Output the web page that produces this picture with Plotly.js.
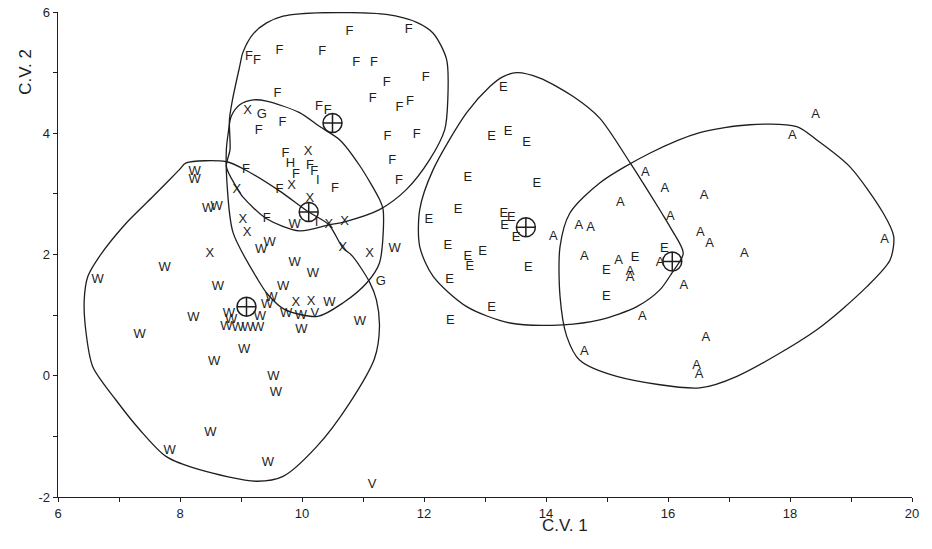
<!DOCTYPE html>
<html><head><meta charset="utf-8">
<script src="https://cdn.plot.ly/plotly-3.0.1.min.js"></script>
<style>html,body{margin:0;padding:0;background:#fff}#chart{width:932px;height:549px}</style>
</head><body><div id="chart"></div>
<script>
// Group F
const fX = [9.13,9.26,9.63,10.33,10.78,11.75,10.89,11.18,11.39,12.03,9.60,11.16,11.60,11.77,10.28,10.42,11.40,11.88,11.48,11.59,9.68,9.29,9.73,10.13,10.20,9.90,10.54,9.08,9.63,9.42];
const fY = [5.27,5.20,5.36,5.34,5.68,5.70,5.16,5.16,4.84,4.91,4.65,4.57,4.42,4.52,4.44,4.37,3.95,3.98,3.55,3.21,4.18,4.04,3.67,3.47,3.36,3.32,3.09,3.39,3.06,2.59];
// Group X
const xX = [9.11,10.10,9.83,8.93,10.13,9.03,9.10,8.49,10.44,10.70,10.67,11.11,9.90,10.15];
const xY = [4.37,3.70,3.14,3.06,2.92,2.57,2.36,2.02,2.49,2.54,2.11,2.01,1.20,1.22];
// Minor groups
const gX = [9.34,11.29], gY = [4.31,1.55];
const hX = [9.81], hY = [3.49];
const iX = [10.26,10.24], iY = [3.22,2.52];
const vX = [10.21,11.15], vY = [1.03,-1.79];
// Group W
const wX = [8.24,8.24,8.46,8.60,9.47,9.33,7.75,6.65,8.62,9.88,10.18,9.69,11.52,10.45,10.95,9.99,9.50,9.43,9.31,9.74,9.98,8.22,8.80,8.84,8.76,8.95,9.11,9.28,7.34,9.05,8.56,9.53,9.57,8.50,7.83,9.44,9.88];
const wY = [3.37,3.23,2.75,2.79,2.19,2.08,1.78,1.58,1.46,1.87,1.68,1.47,2.09,1.20,0.89,0.76,1.28,1.17,0.98,1.03,0.99,0.95,1.03,0.92,0.81,0.80,0.79,0.79,0.68,0.43,0.23,-0.02,-0.28,-0.94,-1.24,-1.44,2.49];
// Group E
const eX = [13.30,13.11,13.38,13.68,12.72,13.85,12.56,12.08,13.31,13.43,13.32,13.51,12.39,12.72,12.75,12.96,13.71,12.42,13.11,12.43,14.99,14.99,15.46,15.94];
const eY = [4.75,3.95,4.03,3.84,3.26,3.17,2.74,2.58,2.68,2.60,2.47,2.27,2.14,1.96,1.79,2.04,1.78,1.58,1.12,0.91,1.74,1.30,1.94,2.09];
// Group A
const aX = [18.42,18.04,15.63,15.95,16.59,15.22,16.04,14.54,14.73,14.12,16.53,16.68,17.25,19.55,14.63,15.19,15.38,15.38,15.87,16.26,15.58,16.62,14.63,16.47,16.51];
const aY = [4.31,3.96,3.35,3.08,2.97,2.86,2.63,2.48,2.44,2.30,2.36,2.17,2.02,2.24,1.97,1.89,1.72,1.62,1.86,1.49,0.98,0.63,0.40,0.16,0.01];
// Group centroids (F, X, W, E, A)
const centX = [10.50,10.11,9.09,13.67,16.07];
const centY = [4.17,2.70,1.14,2.45,1.885];
// Group boundaries
const fBX = [8.76,8.82,8.81,8.86,8.98,9.03,9.20,9.42,9.69,9.96,10.78,11.38,11.88,12.15,12.37,12.39,12.34,12.09,11.71,11.27,10.70,10.44,9.96,9.42,9.03,8.92,8.76];
const fBY = [3.45,3.73,4.22,4.55,5.11,5.33,5.64,5.82,5.93,5.97,5.99,5.96,5.83,5.65,5.22,4.55,4.06,3.56,3.07,2.74,2.54,2.49,2.39,2.59,2.95,3.12,3.45];
const xBX = [9.20,8.98,8.84,8.79,8.76,8.77,8.87,9.28,9.44,9.72,10.26,10.67,11.06,11.27,11.33,11.27,10.95,10.62,10.29,9.96,9.42,9.20];
const xBY = [4.55,4.47,4.28,4.00,3.73,3.18,2.36,1.58,1.34,1.09,0.98,1.20,1.53,1.86,2.74,2.91,3.46,3.89,4.11,4.34,4.53,4.55];
const wBX = [8.10,8.76,9.08,9.63,10.11,10.44,10.67,10.83,11.11,11.22,11.27,11.19,10.78,10.24,9.69,9.25,8.32,7.77,7.34,6.95,6.57,6.46,6.43,6.49,6.68,7.12,7.56,7.99,8.10];
const wBY = [3.51,3.53,3.39,3.05,2.70,2.49,2.11,1.97,1.54,1.25,0.81,0.29,-0.45,-1.17,-1.66,-1.74,-1.55,-1.33,-0.89,-0.40,0.15,0.71,1.25,1.64,1.97,2.52,2.96,3.40,3.51];
const eBX = [13.52,13.90,14.44,14.88,15.38,15.59,15.90,16.06,16.25,16.06,15.87,15.49,14.88,14.28,13.41,12.70,12.15,11.93,11.93,12.15,12.70,13.08,13.29,13.52];
const eBY = [5.00,4.91,4.61,4.25,3.51,3.18,2.68,2.41,2.02,1.69,1.42,1.14,0.92,0.84,0.87,1.14,1.64,2.13,2.74,3.40,4.34,4.77,4.93,5.00];
const aBX = [18.11,17.34,16.52,15.70,14.88,14.39,14.23,14.23,14.34,14.55,15.16,16.52,17.13,18.44,19.26,19.64,19.70,19.53,18.98,18.44,18.11];
const aBY = [4.11,4.14,4.01,3.67,3.18,2.68,2.13,1.31,0.65,0.26,-0.01,-0.20,-0.01,0.76,1.47,1.91,2.30,2.68,3.45,3.89,4.11];
const xTickVals = [6,7,8,9,10,11,12,13,14,15,16,17,18,19,20];
const xTickText = ['6','','8','','10','','12','','14','','16','','18','','20'];
const yTickVals = [-2,-1,0,1,2,3,4,5,6];
const yTickText = ['-2','','0','','2','','4','','6'];

const ink = '#1e1e1e';
const letterFont = {family:'Liberation Sans, Arial, sans-serif', size:13, color:ink};
function letters(name, xs, ys, ch){
  return {type:'scatter', mode:'text', name:name, x:xs, y:ys, text:xs.map(()=>ch),
    textposition:'middle center', textfont:letterFont, cliponaxis:false, hoverinfo:'skip'};
}
function boundary(name, xs, ys){
  return {type:'scatter', mode:'lines', name:name, x:xs, y:ys,
    line:{color:ink, width:1.3, shape:'spline', smoothing:0.8}, hoverinfo:'skip'};
}
const traces = [
  boundary('F region', fBX, fBY),
  boundary('X region', xBX, xBY),
  boundary('W region', wBX, wBY),
  boundary('E region', eBX, eBY),
  boundary('A region', aBX, aBY),
  letters('F', fX, fY, 'F'),
  letters('X', xX, xY, 'X'),
  letters('G', gX, gY, 'G'),
  letters('H', hX, hY, 'H'),
  letters('I', iX, iY, 'I'),
  letters('V', vX, vY, 'V'),
  letters('W', wX, wY, 'W'),
  letters('E', eX, eY, 'E'),
  letters('A', aX, aY, 'A'),
  {type:'scatter', mode:'markers', name:'centroids', x:centX, y:centY,
   marker:{symbol:'circle-cross-open', size:19, color:ink, line:{width:1.5, color:ink}}, hoverinfo:'skip'}
];
const axisFont = {family:'Liberation Sans, Arial, sans-serif', size:13, color:ink};
const layout = {
  width:932, height:549,
  margin:{l:58, r:20, t:12, b:52},
  paper_bgcolor:'#fff', plot_bgcolor:'#fff',
  showlegend:false,
  xaxis:{range:[6,20], tickvals:xTickVals, ticktext:xTickText, ticks:'outside', ticklen:4,
    tickcolor:ink, showline:true, linecolor:ink, linewidth:1.3, showgrid:false, zeroline:false,
    tickfont:axisFont, fixedrange:true},
  yaxis:{range:[-2,6], tickvals:yTickVals, ticktext:yTickText, ticks:'outside', ticklen:4,
    tickcolor:ink, showline:true, linecolor:ink, linewidth:1.3, showgrid:false, zeroline:false,
    tickfont:axisFont, fixedrange:true},
  annotations:[
    {text:'C.V. 1', xref:'paper', yref:'paper', x:0.594, y:-0.058, xanchor:'center', yanchor:'middle',
     showarrow:false, font:{family:'Liberation Sans, Arial, sans-serif', size:17, color:ink}},
    {text:'C.V. 2', xref:'paper', yref:'paper', x:-0.039, y:0.876, xanchor:'center', yanchor:'middle',
     textangle:-90, showarrow:false, font:{family:'Liberation Sans, Arial, sans-serif', size:17, color:ink}}
  ]
};
Plotly.newPlot('chart', traces, layout, {staticPlot:true, displayModeBar:false});
</script></body></html>
